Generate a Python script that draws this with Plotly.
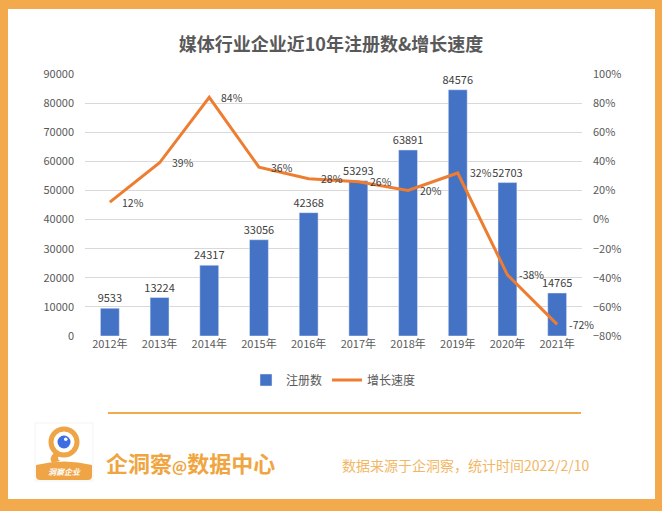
import plotly.graph_objects as go

years = ["2012年", "2013年", "2014年", "2015年", "2016年", "2017年", "2018年", "2019年", "2020年", "2021年"]
registrations = [9533, 13224, 24317, 33056, 42368, 53293, 63891, 84576, 52703, 14765]
growth = [12, 39, 84, 36, 28, 26, 20, 32, -38, -72]

W, H = 662, 511
L, R, T, B = 85, 80, 74, 175
PW, PH = W - L - R, H - T - B
ORANGE = "#F2AA4C"
FONT = "Noto Sans CJK SC"


def px(x):
    return (x - L) / PW


def py(y):
    return (H - B - y) / PH


fig = go.Figure()
fig.add_trace(go.Bar(
    x=years, y=registrations, name="注册数", marker_color="#4472C4",
    text=[str(v) for v in registrations], textposition="outside", constraintext="none",
    textfont=dict(size=11, color="#404040", family=FONT), cliponaxis=False,
))
fig.add_trace(go.Scatter(
    x=years, y=growth, name="增长速度", mode="lines", yaxis="y2",
    line=dict(color="#ED7D31", width=3),
))

annotations = []
for yr, g in zip(years, growth):
    annotations.append(dict(x=yr, y=g, xref="x", yref="y2", text=f"{g}%", showarrow=False,
                            xanchor="left", yanchor="middle", xshift=10,
                            font=dict(size=10.5, color="#404040", family=FONT)))

annotations += [
    dict(x=px(104), y=py(462), xref="paper", yref="paper",
         text="<b>企洞察<span style='font-size:15px'>@</span>数据中心</b>",
         showarrow=False, xanchor="left", yanchor="middle",
         font=dict(size=22, color="#F0A541", family=FONT)),
    dict(x=px(340), y=py(465), xref="paper", yref="paper", text="数据来源于企洞察，统计时间2022/2/10",
         showarrow=False, xanchor="left", yanchor="middle",
         font=dict(size=14, color="#F2B766", family=FONT)),
    dict(x=px(64), y=py(471), xref="paper", yref="paper", text="<b><i>洞察企业</i></b>",
         showarrow=False, xanchor="center", yanchor="middle",
         font=dict(size=8, color="white", family=FONT)),
]

shapes = [
    dict(type="rect", xref="paper", yref="paper", x0=px(8), x1=px(655), y0=py(9), y1=py(499),
         fillcolor="white", line=dict(width=0), layer="below"),
    dict(type="line", xref="paper", yref="paper", x0=px(108), x1=px(581), y0=py(413), y1=py(413),
         line=dict(color=ORANGE, width=2)),
    dict(type="rect", xref="paper", yref="paper", x0=px(35), x1=px(93), y0=py(423), y1=py(481),
         fillcolor="white", line=dict(color="#F3F3F3", width=1)),
    dict(type="path", xref="paper", yref="paper",
         path=f"M {px(36)},{py(465)} Q {px(64)},{py(458)} {px(92)},{py(465)} L {px(92)},{py(476)} "
              f"Q {px(92)},{py(480)} {px(88)},{py(480)} L {px(40)},{py(480)} Q {px(36)},{py(480)} {px(36)},{py(476)} Z",
         fillcolor="#EFA445", line=dict(width=0)),
    dict(type="path", xref="paper", yref="paper",
         path=f"M {px(55)},{py(452)} Q {px(48)},{py(458)} {px(52)},{py(463)} L {px(60)},{py(461)} Q {px(56)},{py(458)} {px(60)},{py(455)} Z",
         fillcolor="#EFA445", line=dict(width=0)),
    dict(type="circle", xref="paper", yref="paper", x0=px(51), x1=px(77), y0=py(429), y1=py(455),
         fillcolor="rgba(0,0,0,0)", line=dict(color="#EFA445", width=5)),
    dict(type="circle", xref="paper", yref="paper", x0=px(57.5), x1=px(70.5), y0=py(435.5), y1=py(448.5),
         fillcolor="#3D6FE3", line=dict(width=0)),
    dict(type="circle", xref="paper", yref="paper", x0=px(64), x1=px(67.5), y0=py(437.5), y1=py(441),
         fillcolor="white", line=dict(width=0)),
]

fig.update_layout(
    width=W, height=H, autosize=False,
    margin=dict(l=L, r=R, t=T, b=B),
    paper_bgcolor=ORANGE, plot_bgcolor="rgba(0,0,0,0)",
    font=dict(family=FONT, color="#595959", size=11),
    title=dict(text="<b>媒体行业企业近10年注册数&增长速度</b>", x=0.5, xanchor="center",
               y=1 - 45 / H, yanchor="middle", font=dict(size=18, color="#595959", family=FONT)),
    bargap=0.62,
    xaxis=dict(range=[-0.5, len(years) - 0.5], autorange=False, showgrid=False, showline=False, ticks="",
               tickfont=dict(size=11, color="#595959")),
    yaxis=dict(range=[0, 90000], dtick=10000, tickformat="d", showgrid=True, gridcolor="#D9D9D9", gridwidth=1,
               zeroline=False, showline=False, ticklabelstandoff=10,
               tickfont=dict(size=11, color="#595959")),
    yaxis2=dict(range=[-80, 100], dtick=20, ticksuffix="%", overlaying="y", side="right",
                showgrid=False, zeroline=False, showline=False, ticklabelstandoff=10,
                tickfont=dict(size=11, color="#595959")),
    legend=dict(orientation="h", x=0.5, xanchor="center", y=py(380), yanchor="middle",
                font=dict(size=12, color="#595959"), bgcolor="rgba(0,0,0,0)"),
    annotations=annotations,
    shapes=shapes,
)

fig.write_html("out.html", config={"displayModeBar": False},
               post_script="document.body.style.margin='0';document.body.style.overflow='hidden';")
